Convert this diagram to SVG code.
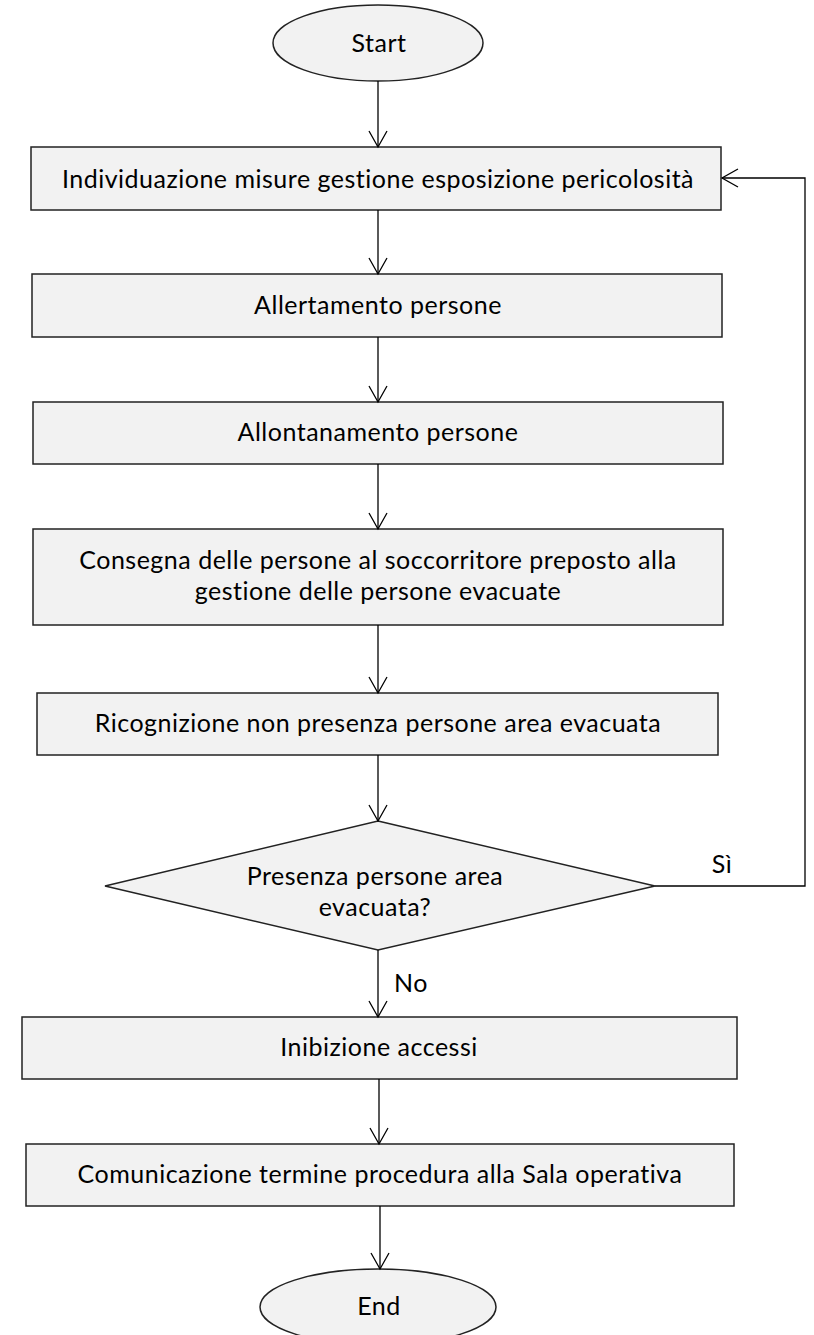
<svg xmlns="http://www.w3.org/2000/svg" width="814" height="1335" viewBox="0 0 814 1335">
<defs>
<marker id="arr" markerUnits="userSpaceOnUse" markerWidth="20" markerHeight="22" viewBox="-18 -11 20 22" refX="0" refY="0" orient="auto">
<path d="M -16 -9 L 0 0 L -16 9" fill="none" stroke="#000" stroke-width="1.3"/>
</marker>
</defs>
<style>
.n{fill:#f2f2f2;stroke:#222;stroke-width:1.5}
.t{font-family:Lato,"Open Sans",sans-serif;font-size:25px;letter-spacing:0.5px;fill:#000;text-anchor:middle}
.c{fill:none;stroke:#000;stroke-width:1.3}
</style>
<rect width="814" height="1335" fill="#fff"/>
<g id="start"><ellipse class="n" cx="378" cy="43" rx="105" ry="38"/><text class="t" x="379" y="52">Start</text></g>
<g id="n1"><rect class="n" x="31" y="147" width="690" height="63"/><text class="t" x="378" y="188">Individuazione misure gestione esposizione pericolosità</text></g>
<g id="n2"><rect class="n" x="32" y="274" width="690" height="63"/><text class="t" x="378" y="314">Allertamento persone</text></g>
<g id="n3"><rect class="n" x="33" y="402" width="690" height="62"/><text class="t" x="378" y="441">Allontanamento persone</text></g>
<g id="n4"><rect class="n" x="33" y="529" width="690" height="96"/><text class="t" x="378" y="569">Consegna delle persone al soccorritore preposto alla</text><text class="t" x="378" y="600">gestione delle persone evacuate</text></g>
<g id="n5"><rect class="n" x="37" y="693" width="681" height="62"/><text class="t" x="378" y="732">Ricognizione non presenza persone area evacuata</text></g>
<g id="d1"><polygon class="n" points="378,821 655,886 378,950 105,886"/><text class="t" x="375" y="885">Presenza persone area</text><text class="t" x="375" y="916">evacuata?</text></g>
<g id="n6"><rect class="n" x="22" y="1017" width="715" height="62"/><text class="t" x="379" y="1056">Inibizione accessi</text></g>
<g id="n7"><rect class="n" x="26" y="1144" width="708" height="62"/><text class="t" x="380" y="1183">Comunicazione termine procedura alla Sala operativa</text></g>
<g id="end"><ellipse class="n" cx="378" cy="1307" rx="118" ry="38"/><text class="t" x="379" y="1315">End</text></g>
<g id="connectors">
<line class="c" x1="378" y1="81" x2="378" y2="147" marker-end="url(#arr)"/>
<line class="c" x1="378" y1="210" x2="378" y2="274" marker-end="url(#arr)"/>
<line class="c" x1="378" y1="337" x2="378" y2="402" marker-end="url(#arr)"/>
<line class="c" x1="378" y1="464" x2="378" y2="529" marker-end="url(#arr)"/>
<line class="c" x1="378" y1="625" x2="378" y2="693" marker-end="url(#arr)"/>
<line class="c" x1="378" y1="755" x2="378" y2="821" marker-end="url(#arr)"/>
<line class="c" x1="378" y1="950" x2="378" y2="1017" marker-end="url(#arr)"/>
<line class="c" x1="379" y1="1079" x2="379" y2="1144" marker-end="url(#arr)"/>
<line class="c" x1="380" y1="1206" x2="380" y2="1269" marker-end="url(#arr)"/>
<polyline class="c" points="655,886 805,886 805,178 722,178" marker-end="url(#arr)"/>
<text class="t" x="722" y="873">Sì</text>
<text class="t" x="411" y="992">No</text>
</g>
</svg>
